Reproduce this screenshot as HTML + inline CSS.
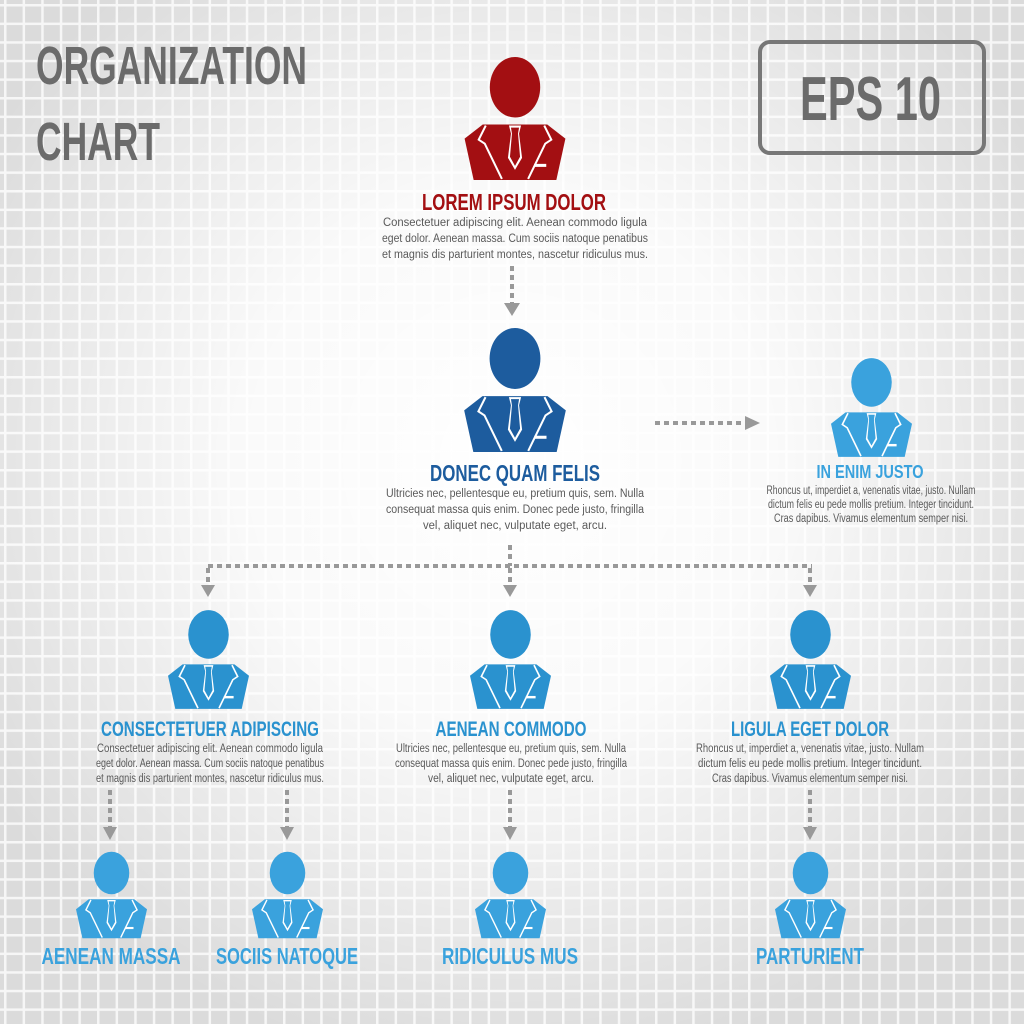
<!DOCTYPE html>
<html><head><meta charset="utf-8"><style>
html,body{margin:0;padding:0;width:1024px;height:1024px;overflow:hidden;background:#e0e0e0}
svg{display:block}
text{font-family:"Liberation Sans Narrow","Liberation Sans",sans-serif}
.t{font-weight:bold;text-anchor:middle}
.d{fill:#5a5a5a;font-size:11.5px;text-anchor:middle}
</style></head><body>
<svg width="1024" height="1024" viewBox="0 0 1024 1024" xmlns="http://www.w3.org/2000/svg">
<defs>
<pattern id="grid" width="18.6" height="18.6" patternUnits="userSpaceOnUse" x="4" y="4">
<rect width="18.6" height="18.6" fill="#d9d9d9"/>
<rect x="0" y="0" width="18.6" height="2.5" fill="#f6f6f6"/>
<rect x="0" y="0" width="2.5" height="18.6" fill="#f6f6f6"/>
</pattern>
<radialGradient id="glow" cx="0.5" cy="0.45" r="0.6">
<stop offset="0" stop-color="#ffffff" stop-opacity="1"/>
<stop offset="0.45" stop-color="#ffffff" stop-opacity="0.85"/>
<stop offset="1" stop-color="#ffffff" stop-opacity="0.05"/>
</radialGradient>
<symbol id="p" viewBox="0 0 100 122">
<ellipse cx="50" cy="30" rx="25" ry="30"/>
<polygon points="18,67 82,67 100,81 91,122 9,122 0,81"/>
<g fill="none" stroke="#fff" stroke-width="2">
<polyline points="21,68 14,82 20,86 37,121"/>
<polyline points="79,68 86,82 80,86 63,121"/>
</g>
<polygon points="44,68 56,68 54,76 57,100 50,112 43,100 46,76" fill="#fff"/>
<polygon points="46,70 54,70 53,76 55,99 50,108 45,99 47,76" fill="currentColor"/>
<rect x="69" y="106" width="12" height="3" fill="#fff"/>
</symbol>
</defs>
<rect width="1024" height="1024" fill="url(#grid)"/>
<rect width="1024" height="1024" fill="url(#glow)"/>

<text x="36" y="84" font-size="54" font-weight="bold" fill="#6b6b6b" textLength="271" lengthAdjust="spacingAndGlyphs">ORGANIZATION</text>
<text x="36" y="160" font-size="54" font-weight="bold" fill="#6b6b6b" textLength="124" lengthAdjust="spacingAndGlyphs">CHART</text>
<rect x="760" y="42" width="224" height="111" rx="10" fill="none" stroke="#777" stroke-width="4"/>
<text x="800" y="120" font-size="62" font-weight="bold" fill="#6b6b6b" textLength="141" lengthAdjust="spacingAndGlyphs">EPS 10</text>

<g stroke="#999" stroke-width="4" stroke-dasharray="5,4" fill="none">
<line x1="512" y1="266" x2="512" y2="303"/>
<line x1="655" y1="423" x2="745" y2="423"/>
<line x1="510" y1="545" x2="510" y2="566"/>
<line x1="208" y1="566" x2="812" y2="566"/>
<line x1="208" y1="568" x2="208" y2="585"/>
<line x1="510" y1="568" x2="510" y2="585"/>
<line x1="810" y1="568" x2="810" y2="585"/>
<line x1="110" y1="790" x2="110" y2="827"/>
<line x1="287" y1="790" x2="287" y2="827"/>
<line x1="510" y1="790" x2="510" y2="827"/>
<line x1="810" y1="790" x2="810" y2="827"/>
</g>
<g fill="#999">
<polygon points="504,303 520,303 512,316"/>
<polygon points="745,416 745,430 760,423"/>
<polygon points="201,585 215,585 208,597"/>
<polygon points="503,585 517,585 510,597"/>
<polygon points="803,585 817,585 810,597"/>
<polygon points="103,827 117,827 110,840"/>
<polygon points="280,827 294,827 287,840"/>
<polygon points="503,827 517,827 510,840"/>
<polygon points="803,827 817,827 810,840"/>
</g>

<use href="#p" x="464" y="57" width="102" height="123" fill="#a30f12" color="#a30f12"/>
<use href="#p" x="464" y="328" width="102" height="124" fill="#1d5c9e" color="#1d5c9e"/>
<use href="#p" x="831" y="357" width="81" height="101" fill="#3aa2dd" color="#3aa2dd"/>
<use href="#p" x="168" y="609" width="81" height="101" fill="#2a92cf" color="#2a92cf"/>
<use href="#p" x="470" y="609" width="81" height="101" fill="#2a92cf" color="#2a92cf"/>
<use href="#p" x="770" y="609" width="81" height="101" fill="#2a92cf" color="#2a92cf"/>
<use href="#p" x="76" y="851" width="71" height="88" fill="#3aa2dd" color="#3aa2dd"/>
<use href="#p" x="252" y="851" width="71" height="88" fill="#3aa2dd" color="#3aa2dd"/>
<use href="#p" x="475" y="851" width="71" height="88" fill="#3aa2dd" color="#3aa2dd"/>
<use href="#p" x="775" y="851" width="71" height="88" fill="#3aa2dd" color="#3aa2dd"/>

<text class="t" x="514" y="210" font-size="23" fill="#a30f12" textLength="184" lengthAdjust="spacingAndGlyphs">LOREM IPSUM DOLOR</text>
<text class="d" x="515" y="226" textLength="264" lengthAdjust="spacingAndGlyphs">Consectetuer adipiscing elit. Aenean commodo ligula</text>
<text class="d" x="515" y="242" textLength="266" lengthAdjust="spacingAndGlyphs">eget dolor. Aenean massa. Cum sociis natoque penatibus</text>
<text class="d" x="515" y="258" textLength="266" lengthAdjust="spacingAndGlyphs">et magnis dis parturient montes, nascetur ridiculus mus.</text>

<text class="t" x="515" y="481" font-size="23" fill="#1d5c9e" textLength="170" lengthAdjust="spacingAndGlyphs">DONEC QUAM FELIS</text>
<text class="d" x="515" y="497" textLength="258" lengthAdjust="spacingAndGlyphs">Ultricies nec, pellentesque eu, pretium quis, sem. Nulla</text>
<text class="d" x="515" y="513" textLength="258" lengthAdjust="spacingAndGlyphs">consequat massa quis enim. Donec pede justo, fringilla</text>
<text class="d" x="515" y="529" textLength="184" lengthAdjust="spacingAndGlyphs">vel, aliquet nec, vulputate eget, arcu.</text>

<text class="t" x="870" y="478" font-size="18" fill="#3aa2dd" textLength="107" lengthAdjust="spacingAndGlyphs">IN ENIM JUSTO</text>
<text class="d" x="871" y="494" font-size="10.5" textLength="209" lengthAdjust="spacingAndGlyphs">Rhoncus ut, imperdiet a, venenatis vitae, justo. Nullam</text>
<text class="d" x="871" y="508" font-size="10.5" textLength="206" lengthAdjust="spacingAndGlyphs">dictum felis eu pede mollis pretium. Integer tincidunt.</text>
<text class="d" x="871" y="522" font-size="10.5" textLength="194" lengthAdjust="spacingAndGlyphs">Cras dapibus. Vivamus elementum semper nisi.</text>

<text class="t" x="210" y="736" font-size="21" fill="#2a92cf" textLength="218" lengthAdjust="spacingAndGlyphs">CONSECTETUER ADIPISCING</text>
<text class="d" x="210" y="752" textLength="226" lengthAdjust="spacingAndGlyphs">Consectetuer adipiscing elit. Aenean commodo ligula</text>
<text class="d" x="210" y="767" textLength="228" lengthAdjust="spacingAndGlyphs">eget dolor. Aenean massa. Cum sociis natoque penatibus</text>
<text class="d" x="210" y="782" textLength="228" lengthAdjust="spacingAndGlyphs">et magnis dis parturient montes, nascetur ridiculus mus.</text>

<text class="t" x="511" y="736" font-size="21" fill="#2a92cf" textLength="151" lengthAdjust="spacingAndGlyphs">AENEAN COMMODO</text>
<text class="d" x="511" y="752" textLength="230" lengthAdjust="spacingAndGlyphs">Ultricies nec, pellentesque eu, pretium quis, sem. Nulla</text>
<text class="d" x="511" y="767" textLength="232" lengthAdjust="spacingAndGlyphs">consequat massa quis enim. Donec pede justo, fringilla</text>
<text class="d" x="511" y="782" textLength="166" lengthAdjust="spacingAndGlyphs">vel, aliquet nec, vulputate eget, arcu.</text>

<text class="t" x="810" y="736" font-size="21" fill="#2a92cf" textLength="158" lengthAdjust="spacingAndGlyphs">LIGULA EGET DOLOR</text>
<text class="d" x="810" y="752" textLength="228" lengthAdjust="spacingAndGlyphs">Rhoncus ut, imperdiet a, venenatis vitae, justo. Nullam</text>
<text class="d" x="810" y="767" textLength="224" lengthAdjust="spacingAndGlyphs">dictum felis eu pede mollis pretium. Integer tincidunt.</text>
<text class="d" x="810" y="782" textLength="196" lengthAdjust="spacingAndGlyphs">Cras dapibus. Vivamus elementum semper nisi.</text>

<text class="t" x="111" y="964" font-size="23" fill="#3aa2dd" textLength="139" lengthAdjust="spacingAndGlyphs">AENEAN MASSA</text>
<text class="t" x="287" y="964" font-size="23" fill="#3aa2dd" textLength="142" lengthAdjust="spacingAndGlyphs">SOCIIS NATOQUE</text>
<text class="t" x="510" y="964" font-size="23" fill="#3aa2dd" textLength="136" lengthAdjust="spacingAndGlyphs">RIDICULUS MUS</text>
<text class="t" x="810" y="964" font-size="23" fill="#3aa2dd" textLength="108" lengthAdjust="spacingAndGlyphs">PARTURIENT</text>
</svg>
</body></html>
